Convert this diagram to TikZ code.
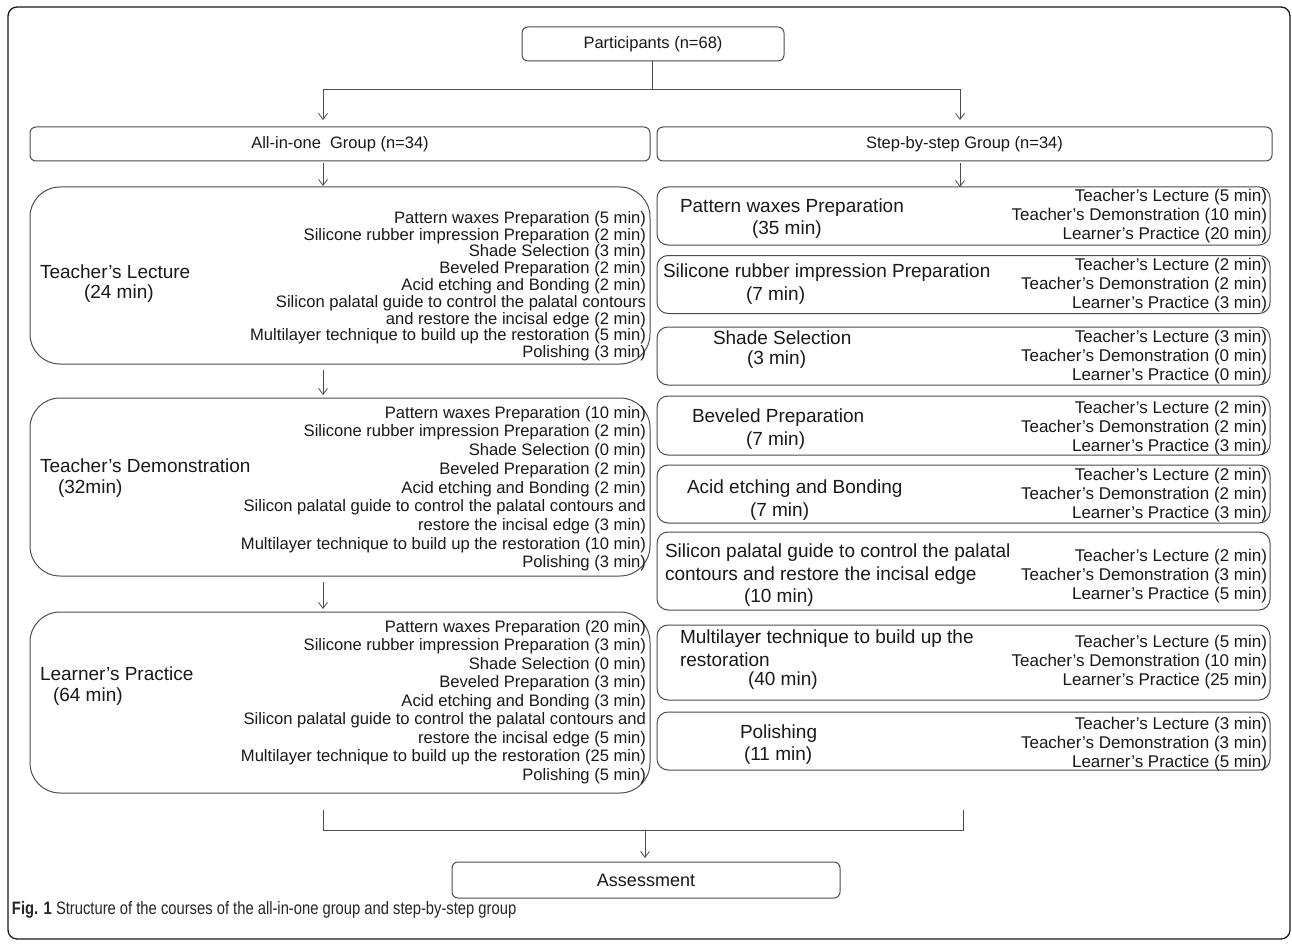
\documentclass[tikz,border=0pt]{standalone}
\usepackage{fontspec}
\setmainfont{Liberation Sans}
\newfontfamily\capfont[FakeStretch=0.82]{Liberation Sans}
\usetikzlibrary{arrows.meta}
\begin{document}
\begin{tikzpicture}[x=1pt,y=-1pt,
  every node/.style={inner sep=0pt, outer sep=0pt},
  frm/.style={draw=black!90, line width=1.3pt, rounded corners=9pt},
  gbox/.style={draw=black!70, line width=1pt, rounded corners=6pt, font=\fontsize{16.5}{19}\selectfont, text=black!90},
  bigbox/.style={draw=black!70, line width=1pt, rounded corners=30pt},
  sbox/.style={draw=black!70, line width=1pt, rounded corners=11pt},
  lbl/.style={font=\fontsize{19}{22}\selectfont, text=black!90},
  lst/.style={font=\fontsize{16.6}{18}\selectfont, text=black!90},
  rlst/.style={font=\fontsize{17}{18}\selectfont, text=black!90},
  con/.style={draw=black!70, line width=0.8pt},
  arr/.style={draw=black!70, line width=0.8pt, -{Straight Barb[length=6pt,width=9pt]}},
]
\useasboundingbox (0,0) rectangle (1292,944);
\fill[white] (0,0) rectangle (1292,944);
% outer frame
\node[frm, minimum width=1282pt, minimum height=932pt] (frame) at (649,473) {};

% top
\node[gbox, minimum width=262pt, minimum height=34pt] (part) at (653,44) {Participants (n=68)};
\node[gbox, minimum width=620pt, minimum height=34pt] (g1) at (340,144) {All-in-one\ \ Group (n=34)};
\node[gbox, minimum width=615pt, minimum height=34pt] (g2) at (964.5,144) {Step-by-step Group (n=34)};

\coordinate (jt) at (652,89);
\coordinate (jl) at (323,89);
\coordinate (jr) at (960,89);
\draw[con] (part.south -| jt) -- (jt);
\draw[arr] (jt) -- (jl) -- ([yshift=7pt]g1.north -| jl);
\draw[arr] (jt) -- (jr) -- ([yshift=7pt]g2.north -| jr);

% left column boxes
\node[bigbox, minimum width=620pt, minimum height=177pt] (lec) at (340,275.5) {};
\node[bigbox, minimum width=620pt, minimum height=178pt] (dem) at (340,487) {};
\node[bigbox, minimum width=620pt, minimum height=181pt] (prac) at (340,702.5) {};

\draw[arr] ([yshift=-2pt]g1.south -| jl) -- ([yshift=1pt]lec.north -| jl);
\draw[arr] ([yshift=-6pt]lec.south -| jl) -- ([yshift=3pt]dem.north -| jl);
\draw[arr] ([yshift=-6pt]dem.south -| jl) -- ([yshift=3pt]prac.north -| jl);

% left labels
\node[lbl, anchor=west] (lecA) at (40,272) {Teacher’s Lecture};
\node[lbl, anchor=west] (lecB) at (84,294) {(24 min)};
\node[lbl, anchor=west] (demA) at (40,466) {Teacher’s Demonstration};
\node[lbl, anchor=west] (demB) at (58,489) {(32min)};
\node[lbl, anchor=west] (pracA) at (40,674) {Learner’s Practice};
\node[lbl, anchor=west] (pracB) at (53,697) {(64 min)};

% left lists
\foreach \tx [count=\i] in {
  Pattern waxes Preparation (5 min),
  Silicone rubber impression Preparation (2 min),
  Shade Selection (3 min),
  Beveled Preparation (2 min),
  Acid etching and Bonding (2 min),
  Silicon palatal guide to control the palatal contours,
  and restore the incisal edge (2 min),
  Multilayer technique to build up the restoration (5 min),
  Polishing (3 min)}
  \node[lst, anchor=east] (lecL\i) at (646,{219+(\i-1)*16.8}) {\tx};

\foreach \tx [count=\i] in {
  Pattern waxes Preparation (10 min),
  Silicone rubber impression Preparation (2 min),
  Shade Selection (0 min),
  Beveled Preparation (2 min),
  Acid etching and Bonding (2 min),
  Silicon palatal guide to control the palatal contours and,
  restore the incisal edge (3 min),
  Multilayer technique to build up the restoration (10 min),
  Polishing (3 min)}
  \node[lst, anchor=east] (demL\i) at (646,{414+(\i-1)*18.7}) {\tx};

\foreach \tx [count=\i] in {
  Pattern waxes Preparation (20 min),
  Silicone rubber impression Preparation (3 min),
  Shade Selection (0 min),
  Beveled Preparation (3 min),
  Acid etching and Bonding (3 min),
  Silicon palatal guide to control the palatal contours and,
  restore the incisal edge (5 min),
  Multilayer technique to build up the restoration (25 min),
  Polishing (5 min)}
  \node[lst, anchor=east] (pracL\i) at (646,{628+(\i-1)*18.5}) {\tx};

% right column boxes
\node[sbox, minimum width=613pt, minimum height=58pt] (r1) at (963.5,216) {};
\node[sbox, minimum width=613pt, minimum height=58pt] (r2) at (963.5,284.5) {};
\node[sbox, minimum width=613pt, minimum height=58pt] (r3) at (963.5,356) {};
\node[sbox, minimum width=613pt, minimum height=59pt] (r4) at (963.5,425.5) {};
\node[sbox, minimum width=613pt, minimum height=58pt] (r5) at (963.5,494) {};
\node[sbox, minimum width=613pt, minimum height=78pt] (r6) at (963.5,571) {};
\node[sbox, minimum width=613pt, minimum height=75pt] (r7) at (963.5,662.5) {};
\node[sbox, minimum width=613pt, minimum height=58pt] (r8) at (963.5,741) {};

\draw[arr] ([yshift=-2pt]g2.south -| jr) -- (r1.north -| jr);

% right lists
\foreach \bx/\ta/\tb/\tc/\yy in {r1/5/10/20/197, r2/2/2/3/266, r3/3/0/0/338, r4/2/2/3/409, r5/2/2/3/476, r6/2/3/5/557, r7/5/10/25/643, r8/3/3/5/725}{
  \node[rlst, anchor=east] (\bx-a) at (1267,\yy) {Teacher’s Lecture (\ta\ min)};
  \node[rlst, anchor=east] (\bx-b) at (1267,\yy+19) {Teacher’s Demonstration (\tb\ min)};
  \node[rlst, anchor=east] (\bx-c) at (1267,\yy+38) {Learner’s Practice (\tc\ min)};
}

% right labels
\node[lbl, anchor=west] (r1A) at (680,208) {Pattern waxes Preparation};
\node[lbl, anchor=west] (r1B) at (752,230) {(35 min)};
\node[lbl, anchor=west] (r2A) at (663,273) {Silicone rubber\ impression\ Preparation};
\node[lbl, anchor=west] (r2B) at (746,296) {(7 min)};
\node[lbl, anchor=west] (r3A) at (713,338) {Shade Selection};
\node[lbl, anchor=west] (r3B) at (747,360) {(3 min)};
\node[lbl, anchor=west] (r4A) at (692,418) {Beveled Preparation};
\node[lbl, anchor=west] (r4B) at (746,441) {(7 min)};
\node[lbl, anchor=west] (r5A) at (687,489) {Acid etching and Bonding};
\node[lbl, anchor=west] (r5B) at (750,512) {(7 min)};
\node[lbl, anchor=west] (r6A) at (665,553) {Silicon palatal guide to control the palatal};
\node[lbl, anchor=west] (r6B) at (665,576) {contours and restore the incisal edge};
\node[lbl, anchor=west] (r6C) at (744,598) {(10 min)};
\node[lbl, anchor=west] (r7A) at (680,639) {Multilayer technique to build\ up\ the};
\node[lbl, anchor=west] (r7B) at (680,660) {restoration};
\node[lbl, anchor=west] (r7C) at (748,681) {(40 min)};
\node[lbl, anchor=west] (r8A) at (740,734) {Polishing};
\node[lbl, anchor=west] (r8B) at (744,756) {(11 min)};

% bottom
\node[gbox, font=\fontsize{18}{20}\selectfont, minimum width=388pt, minimum height=36pt] (assess) at (646,880) {Assessment};
\coordinate (bl0) at (323,810);
\coordinate (bl) at (323,830);
\coordinate (br) at (963,830);
\coordinate (br0) at (963,810);
\coordinate (bm) at (645,830);
\draw[con] (bl0) -- (bl) -- (br) -- (br0);
\draw[arr] (bm) -- ([yshift=4pt]assess.north -| bm);

% caption
\node[anchor=base west, font=\capfont\fontsize{18}{20}\selectfont, text=black!85] (cap) at (12,914) {\textbf{Fig. 1} Structure of the courses of the all-in-one group and step-by-step group};
\end{tikzpicture}
\end{document}
